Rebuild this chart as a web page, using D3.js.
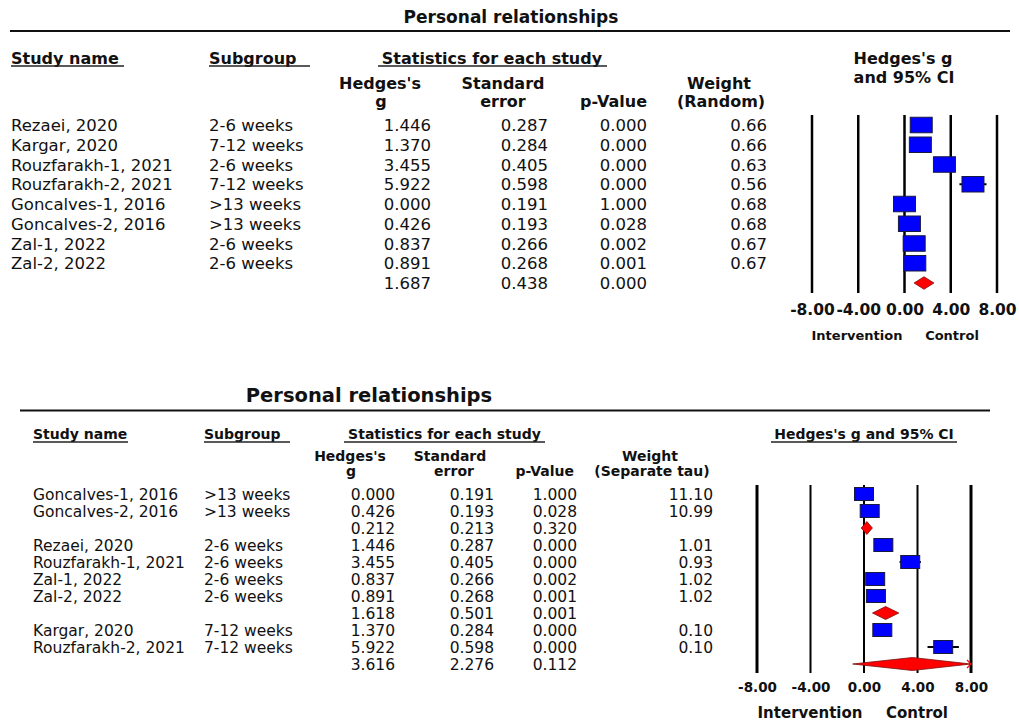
<!DOCTYPE html>
<html>
<head>
<meta charset="utf-8">
<script src="https://cdn.jsdelivr.net/npm/d3@7"></script>
<style>
  body { margin: 0; background: #fff; }
  svg { display: block; }
  text { font-family: "DejaVu Sans", "Liberation Sans", Arial, sans-serif; fill: #111; }
</style>
</head>
<body>
<svg id="chart" width="1019" height="722"></svg>
<script>
// ---- data: top panel (all studies, random effects) ----
const topNames = ["Rezaei, 2020", "Kargar, 2020", "Rouzfarakh-1, 2021", "Rouzfarakh-2, 2021",
  "Goncalves-1, 2016", "Goncalves-2, 2016", "Zal-1, 2022", "Zal-2, 2022", ""];
const topSubgroups = ["2-6 weeks", "7-12 weeks", "2-6 weeks", "7-12 weeks",
  ">13 weeks", ">13 weeks", "2-6 weeks", "2-6 weeks", ""];
const topG = [1.446, 1.370, 3.455, 5.922, 0.000, 0.426, 0.837, 0.891, 1.687];
const topSE = [0.287, 0.284, 0.405, 0.598, 0.191, 0.193, 0.266, 0.268, 0.438];
const topP = ["0.000", "0.000", "0.000", "0.000", "1.000", "0.028", "0.002", "0.001", "0.000"];
const topWeight = ["0.66", "0.66", "0.63", "0.56", "0.68", "0.68", "0.67", "0.67", ""];
const topType = ["study", "study", "study", "study", "study", "study", "study", "study", "summary"];

// ---- data: bottom panel (by subgroup, separate tau) ----
const botNames = ["Goncalves-1, 2016", "Goncalves-2, 2016", "", "Rezaei, 2020", "Rouzfarakh-1, 2021",
  "Zal-1, 2022", "Zal-2, 2022", "", "Kargar, 2020", "Rouzfarakh-2, 2021", ""];
const botSubgroups = [">13 weeks", ">13 weeks", "", "2-6 weeks", "2-6 weeks",
  "2-6 weeks", "2-6 weeks", "", "7-12 weeks", "7-12 weeks", ""];
const botG = [0.000, 0.426, 0.212, 1.446, 3.455, 0.837, 0.891, 1.618, 1.370, 5.922, 3.616];
const botSE = [0.191, 0.193, 0.213, 0.287, 0.405, 0.266, 0.268, 0.501, 0.284, 0.598, 2.276];
const botP = ["1.000", "0.028", "0.320", "0.000", "0.000", "0.002", "0.001", "0.001", "0.000", "0.000", "0.112"];
const botWeight = ["11.10", "10.99", "", "1.01", "0.93", "1.02", "1.02", "", "0.10", "0.10", ""];
const botType = ["study", "study", "summary", "study", "study", "study", "study", "summary", "study", "study", "summary"];

const axisTicks = [-8, -4, 0, 4, 8];

const svg = d3.select("#chart");

// text helper: y is the visual centre of the capitals
function label(g, x, y, str, size, weight, anchor) {
  return g.append("text")
    .attr("x", x)
    .attr("y", y + 0.365 * size)
    .attr("font-size", size)
    .attr("font-weight", weight || "normal")
    .attr("text-anchor", anchor || "start")
    .text(str);
}
function underline(g, x1, x2, y) {
  g.append("line").attr("x1", x1).attr("x2", x2).attr("y1", y).attr("y2", y)
    .attr("stroke", "#222").attr("stroke-width", 1.3);
}

function drawPanel(cfg) {
  const g = svg.append("g");
  const x = d3.scaleLinear().domain([-8, 8]).range(cfg.xRange);
  const y = d3.scalePoint().domain(d3.range(cfg.names.length)).range(cfg.yRange);

  // title + rule
  label(g, cfg.titleX, cfg.titleY, "Personal relationships", cfg.titleSize, "bold", "middle");
  g.append("line").attr("x1", cfg.rule[0]).attr("x2", cfg.rule[1])
    .attr("y1", cfg.rule[2]).attr("y2", cfg.rule[2])
    .attr("stroke", "#111").attr("stroke-width", 2);

  // headers
  const hs = cfg.headSize;
  cfg.heads.forEach(h => {
    label(g, h.x, h.y, h.t, hs, "bold", h.a || "start");
    if (h.u) underline(g, h.u[0], h.u[1], h.u[2]);
  });

  // table rows
  const rs = cfg.rowSize;
  cfg.names.forEach((n, i) => {
    const cy = y(i);
    label(g, cfg.cols.name, cy, n, rs);
    label(g, cfg.cols.sub, cy, cfg.subs[i], rs);
    label(g, cfg.cols.g, cy, cfg.gs[i].toFixed(3), rs, "normal", "end");
    label(g, cfg.cols.se, cy, cfg.ses[i].toFixed(3), rs, "normal", "end");
    label(g, cfg.cols.p, cy, cfg.ps[i], rs, "normal", "end");
    label(g, cfg.cols.w, cy, cfg.ws[i], rs, "normal", "end");
  });

  // reference lines at the ticks
  g.selectAll("line.grid").data(axisTicks).enter().append("line")
    .attr("class", "grid")
    .attr("x1", d => x(d)).attr("x2", d => x(d))
    .attr("y1", cfg.gridY[0]).attr("y2", cfg.gridY[1])
    .attr("stroke", "#000")
    .attr("stroke-width", d => Math.abs(d) === 8 ? cfg.gridW[0] : cfg.gridW[1]);

  // axis labels
  const ax = g.append("g")
    .attr("transform", `translate(0,${cfg.tickY + 0.365 * cfg.tickSize})`)
    .call(d3.axisBottom(x).tickValues(axisTicks).tickFormat(d => d.toFixed(2))
      .tickSize(0).tickPadding(0));
  ax.select(".domain").remove();
  ax.selectAll("text")
    .attr("y", 0).attr("dy", null)
    .attr("font-size", cfg.tickSize).attr("font-weight", "bold")
    .attr("font-family", "DejaVu Sans, sans-serif").attr("fill", "#111");

  label(g, cfg.favour[0], cfg.favour[2], "Intervention", cfg.favourSize, "bold", "middle");
  label(g, cfg.favour[1], cfg.favour[2], "Control", cfg.favourSize, "bold", "middle");

  // marks
  cfg.gs.forEach((v, i) => {
    const cy = y(i);
    const ciLo = Math.max(-8, v - 1.96 * cfg.ses[i]);
    const ciHi = Math.min(8, v + 1.96 * cfg.ses[i]);
    if (cfg.types[i] === "study") {
      g.append("line").attr("x1", x(ciLo)).attr("x2", x(ciHi)).attr("y1", cy).attr("y2", cy)
        .attr("stroke", "#000").attr("stroke-width", 2);
      g.append("rect")
        .attr("x", x(v) - cfg.box[0] / 2).attr("y", cy - cfg.box[1] / 2)
        .attr("width", cfg.box[0]).attr("height", cfg.box[1])
        .attr("fill", "#0000ff").attr("stroke", "#1a1a40").attr("stroke-width", 1);
    } else {
      const h = cfg.diamondH / 2;
      g.append("path")
        .attr("d", `M${x(ciLo)},${cy} L${x(v)},${cy - h} L${x(ciHi)},${cy} L${x(v)},${cy + h} Z`)
        .attr("fill", "#ff0000").attr("stroke", "#7a1010").attr("stroke-width", 0.8);
      // CI runs past the axis end: small arrow head
      if (v + 1.96 * cfg.ses[i] > 8) {
        const ex = x(8);
        g.append("path")
          .attr("d", `M${ex - 4},${cy - 4} L${ex},${cy} L${ex - 4},${cy + 4}`)
          .attr("fill", "none").attr("stroke", "#ff0000").attr("stroke-width", 1.2);
      }
    }
  });
}

// top panel
drawPanel({
  names: topNames, subs: topSubgroups, gs: topG, ses: topSE, ps: topP, ws: topWeight, types: topType,
  xRange: [812, 997], yRange: [125, 283],
  titleX: 511, titleY: 17, titleSize: 17, rule: [10, 1010, 31],
  headSize: 16,
  heads: [
    { t: "Study name", x: 11, y: 58, u: [11, 124, 66] },
    { t: "Subgroup", x: 209, y: 58, u: [209, 310, 66] },
    { t: "Statistics for each study", x: 492, y: 58, a: "middle", u: [378, 607, 66] },
    { t: "Hedges's g", x: 903, y: 58, a: "middle" },
    { t: "and 95% CI", x: 904, y: 77, a: "middle" },
    { t: "Hedges's", x: 380, y: 83, a: "middle" },
    { t: "g", x: 381, y: 101, a: "middle" },
    { t: "Standard", x: 503, y: 83, a: "middle" },
    { t: "error", x: 503, y: 101, a: "middle" },
    { t: "p-Value", x: 647, y: 101, a: "end" },
    { t: "Weight", x: 719, y: 83, a: "middle" },
    { t: "(Random)", x: 721, y: 101, a: "middle" }
  ],
  rowSize: 16.5,
  cols: { name: 11, sub: 209, g: 431, se: 548, p: 647, w: 767 },
  gridY: [115, 293], gridW: [2.5, 2.5],
  tickY: 309, tickSize: 15.5,
  favour: [857, 952, 335], favourSize: 13,
  box: [22, 15.5], diamondH: 12.5
});

// bottom panel
drawPanel({
  names: botNames, subs: botSubgroups, gs: botG, ses: botSE, ps: botP, ws: botWeight, types: botType,
  xRange: [757, 971], yRange: [494, 664],
  titleX: 369, titleY: 395, titleSize: 19.5, rule: [20, 990, 410.5],
  headSize: 14,
  heads: [
    { t: "Study name", x: 33, y: 434, u: [33, 128, 442] },
    { t: "Subgroup", x: 204, y: 434, u: [204, 290, 442] },
    { t: "Statistics for each study", x: 444.5, y: 434, a: "middle", u: [344, 545, 442] },
    { t: "Hedges's g and 95% CI", x: 864, y: 434, a: "middle", u: [771, 957, 442] },
    { t: "Hedges's", x: 350, y: 456, a: "middle" },
    { t: "g", x: 351, y: 471, a: "middle" },
    { t: "Standard", x: 450, y: 456, a: "middle" },
    { t: "error", x: 454, y: 471, a: "middle" },
    { t: "p-Value", x: 574, y: 471, a: "end" },
    { t: "Weight", x: 650, y: 456, a: "middle" },
    { t: "(Separate tau)", x: 652, y: 471, a: "middle" }
  ],
  rowSize: 15.5,
  cols: { name: 33, sub: 204, g: 395, se: 494, p: 577, w: 713 },
  gridY: [485, 673], gridW: [3, 2],
  tickY: 687, tickSize: 13.5,
  favour: [810, 917, 713], favourSize: 15,
  box: [19, 13], diamondH: 13
});
</script>
</body>
</html>
